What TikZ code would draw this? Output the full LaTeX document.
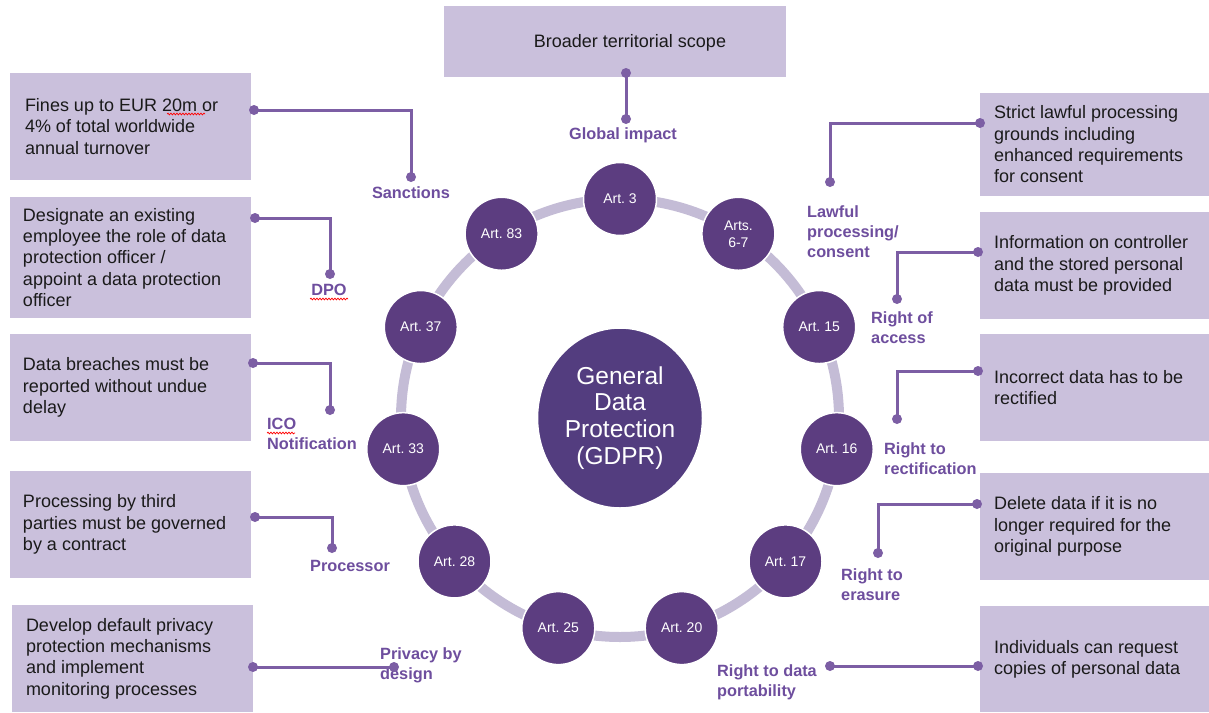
\documentclass[tikz,border=0pt]{standalone}
\usepackage{fontspec}
\setmainfont{Liberation Sans}
\usetikzlibrary{shapes.geometric,decorations.pathmorphing}
\definecolor{boxc}{RGB}{202,192,220}
\definecolor{ringc}{RGB}{196,188,214}
\definecolor{circc}{RGB}{92,61,128}
\definecolor{centc}{RGB}{83,61,127}
\definecolor{linec}{RGB}{124,94,164}
\definecolor{labc}{RGB}{110,78,158}
\definecolor{textc}{RGB}{26,26,26}
\frenchspacing
\begin{document}
\begin{tikzpicture}[x=1pt,y=-1pt,
  box/.style={rectangle, draw=none, fill=boxc, inner sep=0},
  btext/.style={anchor=west, align=left, inner sep=0, text=textc, font=\fontsize{18}{21.3}\selectfont},
  lab/.style={inner sep=0, text=labc, align=left, font=\bfseries\fontsize{16.3}{20}\selectfont},
  conn/.style={draw=linec, line width=3pt},
  art/.style={circle, fill=circc, draw=white, line width=1.5pt, minimum size=73pt, inner sep=0, text=white, align=center, font=\fontsize{14}{17}\selectfont},
  squig/.style={draw=red, line width=0.7pt, decorate, decoration={snake, amplitude=0.9pt, segment length=3pt}}
]
\useasboundingbox (0,0) rectangle (1209,712);
\fill[white] (0,0) rectangle (1209,712);

% boxes
\node[box, minimum width=342pt, minimum height=71pt] (T) at (615,41.5) {};
\node[btext, anchor=center] (Tt) at (630,43) {Broader territorial scope};

\node[box, minimum width=241pt, minimum height=107pt] (L1) at (130.5,126.5) {};
\node[btext] (L1t) at ([xshift=15pt]L1.west) {Fines up to EUR 20m or\\4\% of total worldwide\\annual turnover};
\node[box, minimum width=241pt, minimum height=121pt] (L2) at (130.5,257.5) {};
\node[btext] (L2t) at ([xshift=13pt]L2.west) {Designate an existing\\employee the role of data\\protection officer /\\appoint a data protection\\officer};
\node[box, minimum width=241pt, minimum height=107pt] (L3) at (130.5,387.5) {};
\node[btext] (L3t) at ([xshift=13pt]L3.west) {Data breaches must be\\reported without undue\\delay};
\node[box, minimum width=241pt, minimum height=107pt] (L4) at (130.5,524.5) {};
\node[btext] (L4t) at ([xshift=13pt]L4.west) {Processing by third\\parties must be governed\\by a contract};
\node[box, minimum width=241pt, minimum height=107pt] (L5) at (132.5,658.5) {};
\node[btext] (L5t) at ([xshift=14pt]L5.west) {Develop default privacy\\protection mechanisms\\and implement\\monitoring processes};

\node[box, minimum width=229pt, minimum height=103pt] (R1) at (1094.5,144.5) {};
\node[btext] (R1t) at ([xshift=14pt]R1.west) {Strict lawful processing\\grounds including\\enhanced requirements\\for consent};
\node[box, minimum width=229pt, minimum height=107pt] (R2) at (1094.5,265.5) {};
\node[btext] (R2t) at ([xshift=14pt]R2.west) {Information on controller\\and the stored personal\\data must be provided};
\node[box, minimum width=229pt, minimum height=107pt] (R3) at (1094.5,387.5) {};
\node[btext] (R3t) at ([xshift=14pt]R3.west) {Incorrect data has to be\\rectified};
\node[box, minimum width=229pt, minimum height=107pt] (R4) at (1094.5,526.5) {};
\node[btext] (R4t) at ([xshift=14pt]R4.west) {Delete data if it is no\\longer required for the\\original purpose};
\node[box, minimum width=229pt, minimum height=106pt] (R5) at (1094.5,659) {};
\node[btext] (R5t) at ([xshift=14pt]R5.west) {Individuals can request\\copies of personal data};

% ring
\draw[ringc, line width=10pt] (620,418) circle[radius=219];
\foreach \k/\t in {0/{Art. 3}, 1/{Arts.\\6-7}, 2/{Art. 15}, 3/{Art. 16}, 4/{Art. 17}, 5/{Art. 20}, 6/{Art. 25}, 7/{Art. 28}, 8/{Art. 33}, 9/{Art. 37}, 10/{Art. 83}}
  \node[art] (c\k) at ({620+219*cos(90-32.7273*\k)},{418-219*sin(90-32.7273*\k)}) {\t};

\node[ellipse, fill=centc, draw=white, line width=1.5pt, minimum width=165pt, minimum height=180pt, inner sep=0, text=white, align=center, font=\fontsize{24.5}{26.7}\selectfont] (G) at (620,418) {General\\Data\\Protection\\(GDPR)};

% labels
\node[lab] (lS) at (411,193) {Sanctions};
\node[lab] (lD) at (329,290) {DPO};
\node[lab, anchor=west] (lI) at (267,434) {ICO\\Notification};
\node[lab] (lP) at (350,566) {Processor};
\node[lab, anchor=west] (lB) at (380,665) {Privacy by\\design};
\node[lab] (lG) at (623,135) {Global impact};
\node[lab, anchor=west] (lL) at (807,232) {Lawful\\processing/\\consent};
\node[lab, anchor=west] (lA) at (871,328) {Right of\\access};
\node[lab, anchor=west] (lR) at (884,459) {Right to\\rectification};
\node[lab, anchor=west] (lE) at (841,585) {Right to\\erasure};
\node[lab, anchor=west] (lT) at (717,682) {Right to data\\portability};

% connectors
\coordinate (sA) at (254,110);  \coordinate (sB) at (411,177);
\coordinate (dA) at (255,218);  \coordinate (dB) at (330,274);
\coordinate (iA) at (253,363);  \coordinate (iB) at (330,410);
\coordinate (pA) at (255,517);  \coordinate (pB) at (332,548);
\coordinate (bA) at (253,667);  \coordinate (bB) at (394,667);
\coordinate (gA) at (626,73);   \coordinate (gB) at (626,119);
\coordinate (wA) at (980,123);  \coordinate (wB) at (830,182);
\coordinate (aA) at (978,252);  \coordinate (aB) at (897,299);
\coordinate (rA) at (978,371);  \coordinate (rB) at (897,419);
\coordinate (eA) at (977,504);  \coordinate (eB) at (878,553);
\coordinate (tA) at (978,666);  \coordinate (tB) at (830,666);

\draw[conn] (sA) -| (sB);
\draw[conn] (dA) -| (dB);
\draw[conn] (iA) -| (iB);
\draw[conn] (pA) -| (pB);
\draw[conn] (bA) -- (bB);
\draw[conn] (gA) -- (gB);
\draw[conn] (wA) -| (wB);
\draw[conn] (aA) -| (aB);
\draw[conn] (rA) -| (rB);
\draw[conn] (eA) -| (eB);
\draw[conn] (tA) -- (tB);
\foreach \p in {sA,sB,dA,dB,iA,iB,pA,pB,bA,bB,gA,gB,wA,wB,aA,aB,rA,rB,eA,eB,tA,tB}
  \fill[linec] (\p) circle[radius=5];

% spell-check squiggles
\draw[squig] (167,114) -- (205,114);
\draw[squig] (310,299) -- (348,299);
\draw[squig] (267,433) -- (295,433);
\end{tikzpicture}
\end{document}
